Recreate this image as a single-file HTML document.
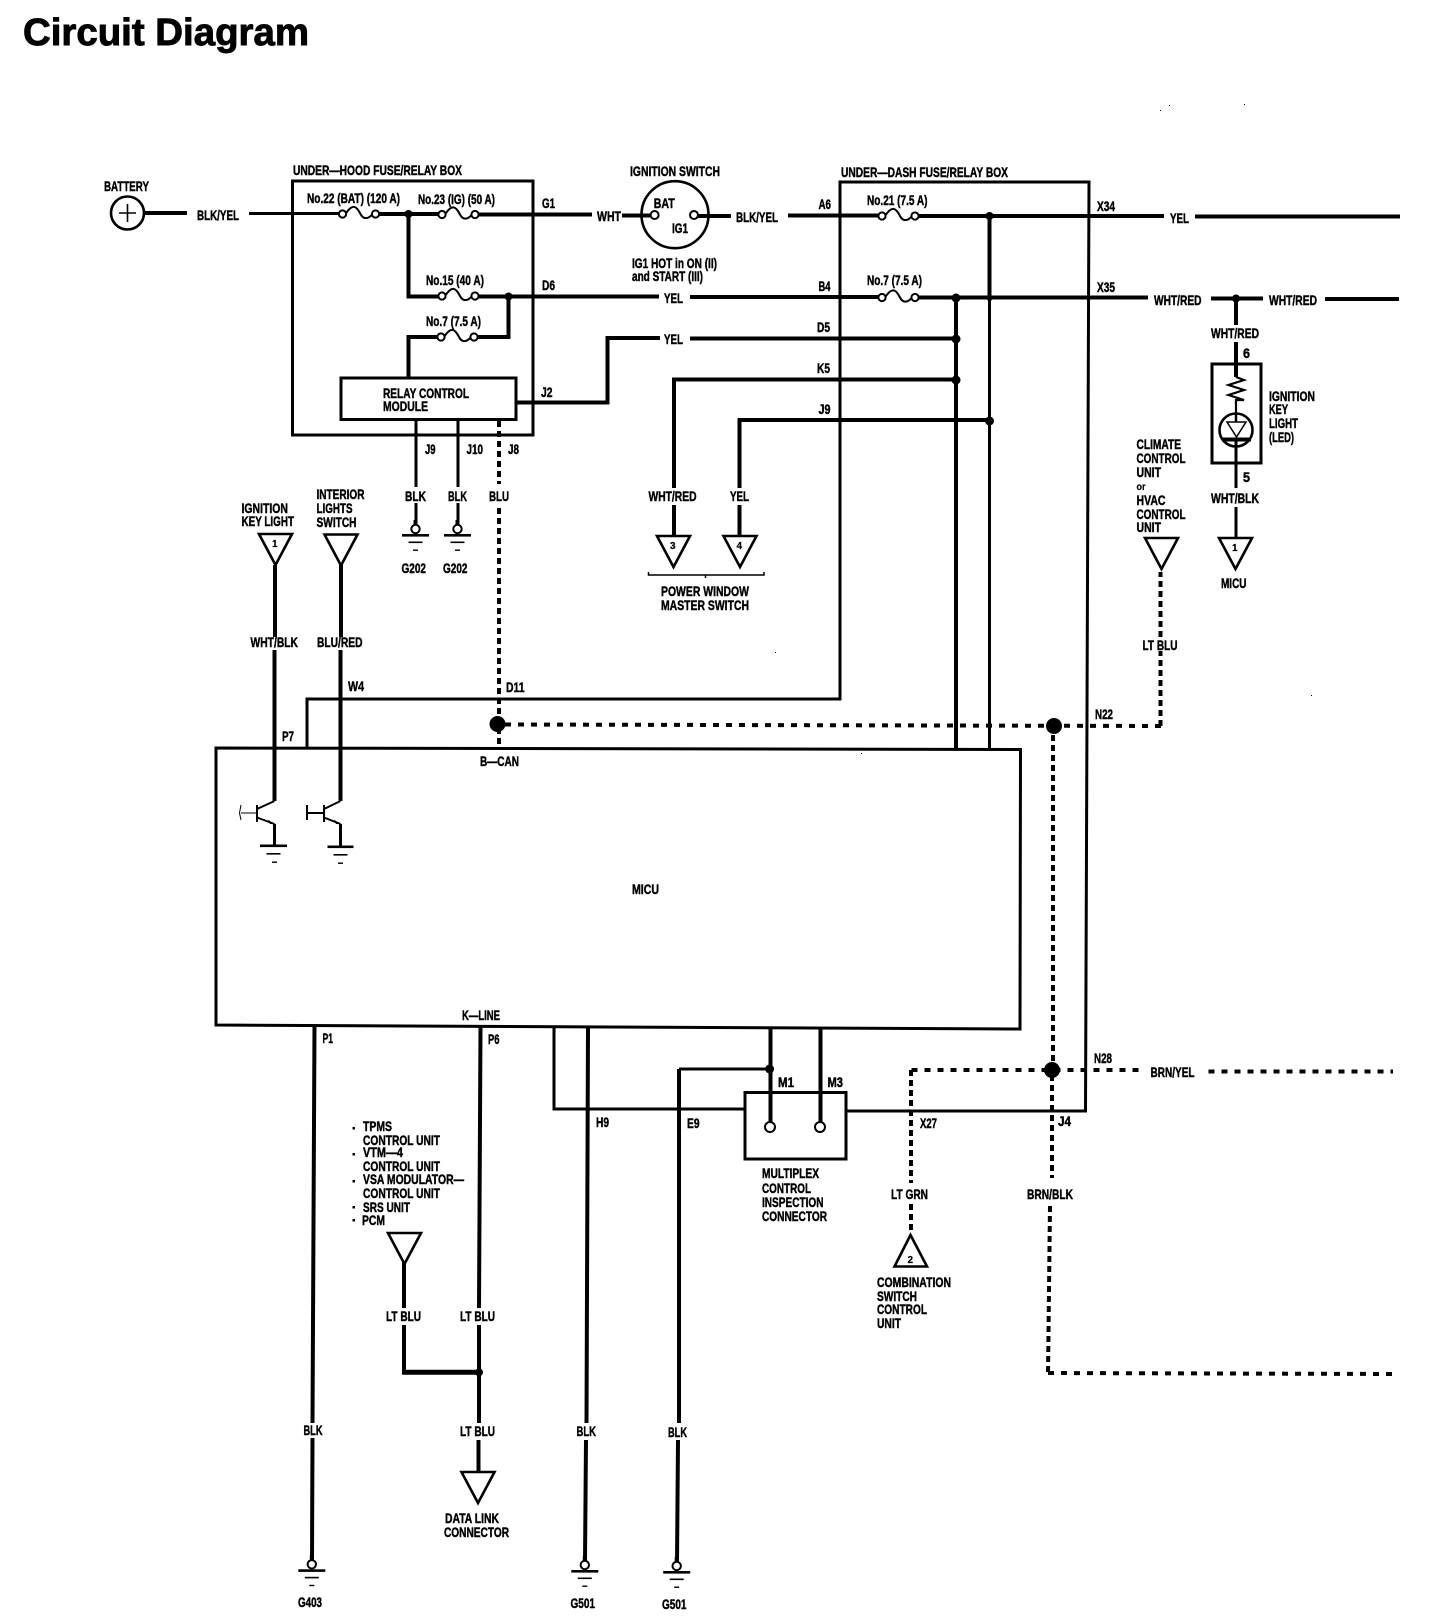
<!DOCTYPE html>
<html><head><meta charset="utf-8"><title>Circuit Diagram</title>
<style>
html,body{margin:0;padding:0;background:#fff}
svg{display:block}
text{font-family:"Liberation Sans",sans-serif;font-weight:bold;font-size:14px;fill:#000;stroke:#000;stroke-width:.45}
.t{font-size:38px;stroke-width:.9}
.s{font-size:10px;stroke-width:.2}
.w,.m,.n,.d,.dv,.x{fill:none;stroke:#000;stroke-linecap:butt;stroke-linejoin:miter}
.w{stroke-width:4}.m{stroke-width:3}.n{stroke-width:1.5}
.d{stroke-width:4;stroke-dasharray:6 7}
.dv{stroke-width:4;stroke-dasharray:6 4}
.p{fill:#fff;stroke:#000;stroke-width:2}
.tri{fill:#fff;stroke:#000;stroke-width:2.6;stroke-linejoin:miter}
.j{fill:#000}
</style></head><body>
<svg width="1456" height="1622" viewBox="0 0 1456 1622" xmlns="http://www.w3.org/2000/svg">
<defs>
<g id="fuse"><path d="M3 0C10-11 14-8 18 0C21 6 26 5 30 0" fill="none" stroke="#000" stroke-width="2"/><circle cx="0" cy="0" r="3.6" class="p"/><circle cx="33" cy="0" r="3.6" class="p"/></g>
<g id="gnd"><path d="M0-9V0" stroke="#000" stroke-width="4" fill="none"/><circle cx="0" cy="0" r="4.2" class="p"/><rect x="-13.5" y="5" width="27" height="2.6" fill="#000"/><rect x="-7" y="12.5" width="14" height="1.6" fill="#000"/><rect x="-2.5" y="20.5" width="5" height="1.4" fill="#000"/></g>
<g id="dn"><path d="M-16.5 0H16.5L0 31Z" class="tri"/></g>
</defs>
<rect width="1456" height="1622" fill="#fff"/>

<text class="t" x="23" y="45" textLength="286" lengthAdjust="spacingAndGlyphs">Circuit Diagram</text>

<!-- boxes -->
<path class="m" d="M292.500 181H533V435H292.500Z"/>
<path class="m" d="M1089 182H840V699H307V747"/>
<path class="m" d="M840 182H1089L1085.500 1111H846"/>
<path class="m" d="M745 1109H554V1027"/>
<path class="m" d="M216 748L1020.500 749.500L1020 1029L216 1025Z"/>
<rect x="341" y="378" width="175" height="41.500" class="m"/>
<rect x="745" y="1092.500" width="101" height="66.500" class="m"/>
<rect x="1212" y="364" width="49" height="99" class="m"/>

<!-- top row wires -->
<circle cx="127.500" cy="213" r="16.500" fill="#fff" stroke="#000" stroke-width="2.600"/>
<path d="M119 213H136M127.500 204V222" stroke="#000" stroke-width="1.600" fill="none"/>
<path class="w" d="M144 213H187"/>
<path class="m" d="M249 213.500H342"/>
<path class="w" d="M376 214H442M475 214.500H592"/>
<path class="w" d="M622 215.500H655M698 216H731"/>
<path class="w" d="M788 215.500H882M914 216H1164M1195 216.500H1400"/>
<path class="w" d="M408.500 214V296.500H442"/>
<path class="w" d="M475 296.500H659M690 297H882M914 297.500H1148"/>
<path class="w" d="M1211 298.500H1263M1325 299H1399"/>
<path class="w" d="M508.500 296.500V337H474M441 337H408.500V378"/>
<path class="w" d="M516 402.500H607.500V338H660M690 338.500H956"/>
<path class="w" d="M956 379.500H674V488M674 505V536"/>
<path class="w" d="M989 420H739.500V488M739.500 505V536"/>
<path class="w" d="M956 298V749"/>
<path class="m" d="M989.500 216V749"/>
<path class="w" d="M989.500 216V300"/>

<!-- fuses -->
<use href="#fuse" x="342.500" y="214"/>
<use href="#fuse" x="442" y="214.500"/>
<use href="#fuse" x="442" y="296"/>
<use href="#fuse" x="441" y="337"/>
<use href="#fuse" x="882" y="216"/>
<use href="#fuse" x="882" y="297.500"/>

<!-- ignition switch -->
<circle cx="675" cy="214.700" r="33.500" fill="none" stroke="#000" stroke-width="2.600"/>
<circle cx="654.600" cy="215" r="4" class="p"/><circle cx="694" cy="215" r="4" class="p"/>

<!-- junctions -->
<circle class="j" cx="408.500" cy="214" r="4"/><circle class="j" cx="508.500" cy="296.500" r="4"/>
<circle class="j" cx="989.500" cy="216" r="4"/><circle class="j" cx="956" cy="298" r="4.500"/>
<circle class="j" cx="989.500" cy="298" r="3"/>
<circle class="j" cx="956" cy="339" r="4.500"/><circle class="j" cx="956" cy="380" r="4.500"/><circle class="j" cx="989.500" cy="421" r="4.500"/>
<circle class="j" cx="1236" cy="298.500" r="4"/>

<!-- relay drops -->
<path class="m" d="M416 419V487M416 503V525M458 419V487M458 503V525"/>
<use href="#gnd" x="415.500" y="529"/><use href="#gnd" x="457.500" y="529"/>
<path class="dv" d="M499 421V484M499 508V747"/>

<!-- triangles -->
<use href="#dn" x="275.500" y="534"/><use href="#dn" x="341" y="534.500"/>
<use href="#dn" x="673.500" y="536"/><use href="#dn" x="740" y="536"/>
<use href="#dn" x="1161.500" y="538"/><use href="#dn" x="1235.500" y="538"/>
<use href="#dn" x="404.500" y="1233"/><use href="#dn" x="478" y="1472"/>
<path d="M910.500 1235L927 1266.500H894.500Z" class="tri"/>

<path class="n" d="M648.500 572V575H764V572M705.500 575V578"/>

<!-- ignition key light -->
<path class="w" d="M1236 298.500V325M1236 342V377"/>
<path d="M1236 377L1244 380L1228.500 385L1244 390L1228.500 395L1244 400H1236V414" fill="none" stroke="#000" stroke-width="2.200"/>
<circle cx="1236" cy="430" r="16.500" fill="#fff" stroke="#000" stroke-width="2.600"/>
<path d="M1227 422H1246L1236.500 437Z" fill="#fff" stroke="#000" stroke-width="1.500"/>
<path d="M1236 414V422" stroke="#000" stroke-width="2.500"/>
<rect x="1222" y="437.500" width="29" height="4" fill="#000"/>
<path class="m" d="M1236 441V488M1236 507V538"/>

<!-- can -->
<path class="d" d="M505 724.500L1161 726"/>
<circle class="j" cx="497.500" cy="724" r="8"/>
<circle class="j" cx="1054" cy="726" r="8"/>
<path class="dv" d="M1160.500 726V651M1160.500 637V572"/>
<path class="dv" d="M1053 735V1070"/>
<path class="d" d="M911.500 1070H1143M1208.500 1071.500H1393"/>
<circle class="j" cx="1052" cy="1070" r="8"/>
<path class="dv" d="M911 1070V1183M911 1204V1231"/>
<path class="dv" d="M1052 1075V1178M1050 1206L1048 1374"/>
<path class="d" d="M1048 1373L1392 1374"/>

<!-- left wires -->
<path class="w" d="M275 565V637M274.500 650V801"/>
<path class="w" d="M341 565V637M340.500 650V801"/>
<!-- transistors -->
<g fill="none" stroke="#000">
<path stroke-width="2" d="M257 805V822M257 809L274.500 801M257 817.500L274.500 824"/>
<path stroke-width="1" d="M241 813H257M241 805L239.500 813L241 820"/>
<path stroke-width="2" d="M324 805V822M324 809L340.500 801M324 817.500L340.500 824"/>
<path stroke-width="2" d="M306 813H324M307 805V820"/>
<path stroke-width="3" d="M274.500 824V846M340.500 824V847"/>
</g>
<path d="M274 824L268 819.500L270 824Z M340 824L334 819.500L336 824Z" fill="#000"/>
<rect x="260" y="844.500" width="27" height="2.600" fill="#000"/><rect x="266.500" y="853" width="14" height="1.600" fill="#000"/><rect x="272" y="861.500" width="5" height="1.400" fill="#000"/>
<rect x="327.500" y="845.500" width="26" height="2.600" fill="#000"/><rect x="333.500" y="854" width="14" height="1.600" fill="#000"/><rect x="338" y="862.500" width="5" height="1.400" fill="#000"/>

<!-- bottom wires -->
<path class="w" d="M314.500 1025L312.500 1423M312.500 1438L312 1560"/>
<use href="#gnd" x="311.800" y="1564.300"/>
<path class="w" d="M480.500 1027L479 1308M479 1325V1423M478.500 1440V1472"/>
<path class="w" d="M404 1262V1308M404 1325V1372"/>
<path d="M402 1372.300H479" stroke="#000" stroke-width="5" fill="none"/>
<circle class="j" cx="479" cy="1372.300" r="4"/>
<path class="w" d="M588 1027L586.500 1423M586 1440L585 1561"/>
<use href="#gnd" x="584.800" y="1565"/>
<path class="m" d="M770 1069H679"/>
<path class="w" d="M679 1069V1423M678 1440L677 1563"/>
<use href="#gnd" x="676.700" y="1566"/>
<circle class="j" cx="769.600" cy="1069" r="4.500"/>
<path class="w" d="M770.500 1027V1122M820.500 1027V1122"/>
<circle cx="770" cy="1127" r="5" class="p"/><circle cx="820" cy="1127" r="5" class="p"/>

<!-- labels -->
<text x="104" y="191" textLength="45" lengthAdjust="spacingAndGlyphs">BATTERY</text>
<text x="197" y="220" textLength="42" lengthAdjust="spacingAndGlyphs">BLK/YEL</text>
<text x="293" y="175" textLength="169" lengthAdjust="spacingAndGlyphs">UNDER—HOOD FUSE/RELAY BOX</text>
<text x="307" y="203" textLength="93" lengthAdjust="spacingAndGlyphs">No.22 (BAT) (120 A)</text>
<text x="418" y="204" textLength="77" lengthAdjust="spacingAndGlyphs">No.23 (IG) (50 A)</text>
<text x="542" y="208" textLength="13" lengthAdjust="spacingAndGlyphs">G1</text>
<text x="597" y="221" textLength="24" lengthAdjust="spacingAndGlyphs">WHT</text>
<text x="426" y="285" textLength="58" lengthAdjust="spacingAndGlyphs">No.15 (40 A)</text>
<text x="542" y="290" textLength="13" lengthAdjust="spacingAndGlyphs">D6</text>
<text x="664" y="303" textLength="19" lengthAdjust="spacingAndGlyphs">YEL</text>
<text x="426" y="326" textLength="55" lengthAdjust="spacingAndGlyphs">No.7 (7.5 A)</text>
<text x="664" y="344" textLength="19" lengthAdjust="spacingAndGlyphs">YEL</text>
<text x="383" y="398" textLength="86" lengthAdjust="spacingAndGlyphs">RELAY CONTROL</text>
<text x="383" y="411" textLength="45" lengthAdjust="spacingAndGlyphs">MODULE</text>
<text x="541" y="397" textLength="11.500" lengthAdjust="spacingAndGlyphs">J2</text>
<text x="425" y="454" textLength="10.500" lengthAdjust="spacingAndGlyphs">J9</text>
<text x="466.500" y="454" textLength="16.500" lengthAdjust="spacingAndGlyphs">J10</text>
<text x="508" y="454" textLength="11" lengthAdjust="spacingAndGlyphs">J8</text>
<text x="405" y="501" textLength="21" lengthAdjust="spacingAndGlyphs">BLK</text>
<text x="448" y="501" textLength="19" lengthAdjust="spacingAndGlyphs">BLK</text>
<text x="489" y="501" textLength="20" lengthAdjust="spacingAndGlyphs">BLU</text>
<text x="401.500" y="573" textLength="24.500" lengthAdjust="spacingAndGlyphs">G202</text>
<text x="443" y="573" textLength="24.500" lengthAdjust="spacingAndGlyphs">G202</text>
<text x="630" y="176" textLength="90" lengthAdjust="spacingAndGlyphs">IGNITION SWITCH</text>
<text x="653.700" y="208" textLength="21" lengthAdjust="spacingAndGlyphs">BAT</text>
<text x="672" y="233" textLength="16" lengthAdjust="spacingAndGlyphs">IG1</text>
<text x="632" y="268" textLength="85" lengthAdjust="spacingAndGlyphs">IG1 HOT in ON (II)</text>
<text x="632" y="281" textLength="71" lengthAdjust="spacingAndGlyphs">and START (III)</text>
<text x="736" y="222" textLength="42" lengthAdjust="spacingAndGlyphs">BLK/YEL</text>
<text x="818.500" y="209" textLength="12.500" lengthAdjust="spacingAndGlyphs">A6</text>
<text x="841" y="177" textLength="167" lengthAdjust="spacingAndGlyphs">UNDER—DASH FUSE/RELAY BOX</text>
<text x="867" y="205" textLength="60.500" lengthAdjust="spacingAndGlyphs">No.21 (7.5 A)</text>
<text x="1097" y="211" textLength="18" lengthAdjust="spacingAndGlyphs">X34</text>
<text x="1170" y="223" textLength="19" lengthAdjust="spacingAndGlyphs">YEL</text>
<text x="818.500" y="291" textLength="12" lengthAdjust="spacingAndGlyphs">B4</text>
<text x="867" y="285" textLength="55" lengthAdjust="spacingAndGlyphs">No.7 (7.5 A)</text>
<text x="1097" y="292" textLength="18" lengthAdjust="spacingAndGlyphs">X35</text>
<text x="1154" y="305" textLength="47.500" lengthAdjust="spacingAndGlyphs">WHT/RED</text>
<text x="1269" y="305" textLength="48" lengthAdjust="spacingAndGlyphs">WHT/RED</text>
<text x="817" y="332" textLength="13" lengthAdjust="spacingAndGlyphs">D5</text>
<text x="817" y="373" textLength="13" lengthAdjust="spacingAndGlyphs">K5</text>
<text x="818.500" y="414" textLength="12" lengthAdjust="spacingAndGlyphs">J9</text>
<text x="1211" y="338" textLength="48" lengthAdjust="spacingAndGlyphs">WHT/RED</text>
<text x="1243" y="358" textLength="7" lengthAdjust="spacingAndGlyphs">6</text>
<text x="1243" y="482" textLength="7" lengthAdjust="spacingAndGlyphs">5</text>
<text x="1211" y="503" textLength="48" lengthAdjust="spacingAndGlyphs">WHT/BLK</text>
<text x="1269" y="401" textLength="46" lengthAdjust="spacingAndGlyphs">IGNITION</text>
<text x="1269" y="414" textLength="19" lengthAdjust="spacingAndGlyphs">KEY</text>
<text x="1269" y="428" textLength="29" lengthAdjust="spacingAndGlyphs">LIGHT</text>
<text x="1269" y="442" textLength="25" lengthAdjust="spacingAndGlyphs">(LED)</text>
<text x="1221" y="588" textLength="25.500" lengthAdjust="spacingAndGlyphs">MICU</text>
<text x="1136.500" y="449" textLength="44.500" lengthAdjust="spacingAndGlyphs">CLIMATE</text>
<text x="1136.500" y="463" textLength="49" lengthAdjust="spacingAndGlyphs">CONTROL</text>
<text x="1136.500" y="477" textLength="24.500" lengthAdjust="spacingAndGlyphs">UNIT</text>
<text class="s" x="1136.500" y="490" textLength="9" lengthAdjust="spacingAndGlyphs">or</text>
<text x="1136.500" y="505" textLength="29" lengthAdjust="spacingAndGlyphs">HVAC</text>
<text x="1136.500" y="519" textLength="49" lengthAdjust="spacingAndGlyphs">CONTROL</text>
<text x="1136.500" y="532" textLength="24.500" lengthAdjust="spacingAndGlyphs">UNIT</text>
<text x="1142.500" y="650" textLength="35" lengthAdjust="spacingAndGlyphs">LT BLU</text>
<text x="241.500" y="513" textLength="46.500" lengthAdjust="spacingAndGlyphs">IGNITION</text>
<text x="241.500" y="526" textLength="52.500" lengthAdjust="spacingAndGlyphs">KEY LIGHT</text>
<text x="316.500" y="499" textLength="48" lengthAdjust="spacingAndGlyphs">INTERIOR</text>
<text x="316.500" y="513" textLength="36" lengthAdjust="spacingAndGlyphs">LIGHTS</text>
<text x="316.500" y="527" textLength="40" lengthAdjust="spacingAndGlyphs">SWITCH</text>
<text x="648.500" y="501" textLength="48" lengthAdjust="spacingAndGlyphs">WHT/RED</text>
<text x="730" y="501" textLength="19" lengthAdjust="spacingAndGlyphs">YEL</text>
<text x="661" y="596" textLength="88" lengthAdjust="spacingAndGlyphs">POWER WINDOW</text>
<text x="661" y="610" textLength="88" lengthAdjust="spacingAndGlyphs">MASTER SWITCH</text>
<text class="s" x="272" y="547">1</text><text class="s" x="670" y="549">3</text><text class="s" x="736.500" y="549">4</text><text class="s" x="1232" y="551">1</text><text class="s" x="907.500" y="1263">2</text>
<text x="250.500" y="647" textLength="47.500" lengthAdjust="spacingAndGlyphs">WHT/BLK</text>
<text x="317" y="647" textLength="45.500" lengthAdjust="spacingAndGlyphs">BLU/RED</text>
<text x="348" y="691" textLength="16" lengthAdjust="spacingAndGlyphs">W4</text>
<text x="506" y="692" textLength="18.500" lengthAdjust="spacingAndGlyphs">D11</text>
<text x="282" y="741" textLength="12" lengthAdjust="spacingAndGlyphs">P7</text>
<text x="480" y="766" textLength="39" lengthAdjust="spacingAndGlyphs">B—CAN</text>
<text x="1095" y="719" textLength="18" lengthAdjust="spacingAndGlyphs">N22</text>
<text x="632" y="894" textLength="27" lengthAdjust="spacingAndGlyphs">MICU</text>
<text x="462" y="1020" textLength="38" lengthAdjust="spacingAndGlyphs">K—LINE</text>
<text x="322.500" y="1043" textLength="10.500" lengthAdjust="spacingAndGlyphs">P1</text>
<text x="488" y="1044" textLength="11.500" lengthAdjust="spacingAndGlyphs">P6</text>
<text x="778" y="1087" textLength="16" lengthAdjust="spacingAndGlyphs">M1</text>
<text x="827.500" y="1087" textLength="15.500" lengthAdjust="spacingAndGlyphs">M3</text>
<text x="1094" y="1063" textLength="18" lengthAdjust="spacingAndGlyphs">N28</text>
<text x="1150.500" y="1077" textLength="44" lengthAdjust="spacingAndGlyphs">BRN/YEL</text>
<text x="596" y="1127" textLength="13" lengthAdjust="spacingAndGlyphs">H9</text>
<text x="687" y="1128" textLength="12.500" lengthAdjust="spacingAndGlyphs">E9</text>
<text x="920" y="1128" textLength="17" lengthAdjust="spacingAndGlyphs">X27</text>
<text x="1058" y="1126" textLength="13" lengthAdjust="spacingAndGlyphs">J4</text>
<text x="762" y="1178" textLength="57" lengthAdjust="spacingAndGlyphs">MULTIPLEX</text>
<text x="762" y="1193" textLength="49" lengthAdjust="spacingAndGlyphs">CONTROL</text>
<text x="762" y="1207" textLength="61.500" lengthAdjust="spacingAndGlyphs">INSPECTION</text>
<text x="762" y="1221" textLength="65" lengthAdjust="spacingAndGlyphs">CONNECTOR</text>
<text x="891" y="1199" textLength="37" lengthAdjust="spacingAndGlyphs">LT GRN</text>
<text x="1027" y="1199" textLength="46" lengthAdjust="spacingAndGlyphs">BRN/BLK</text>
<text x="877" y="1287" textLength="74" lengthAdjust="spacingAndGlyphs">COMBINATION</text>
<text x="877" y="1301" textLength="40" lengthAdjust="spacingAndGlyphs">SWITCH</text>
<text x="877" y="1314" textLength="50" lengthAdjust="spacingAndGlyphs">CONTROL</text>
<text x="877" y="1328" textLength="24" lengthAdjust="spacingAndGlyphs">UNIT</text>
<text x="363" y="1131" textLength="29" lengthAdjust="spacingAndGlyphs">TPMS</text>
<text x="363" y="1145" textLength="77" lengthAdjust="spacingAndGlyphs">CONTROL UNIT</text>
<text x="363" y="1157" textLength="40" lengthAdjust="spacingAndGlyphs">VTM—4</text>
<text x="363" y="1171" textLength="77" lengthAdjust="spacingAndGlyphs">CONTROL UNIT</text>
<text x="363" y="1184" textLength="101" lengthAdjust="spacingAndGlyphs">VSA MODULATOR—</text>
<text x="363" y="1198" textLength="77" lengthAdjust="spacingAndGlyphs">CONTROL UNIT</text>
<text x="363" y="1212" textLength="47" lengthAdjust="spacingAndGlyphs">SRS UNIT</text>
<text x="362" y="1225" textLength="23" lengthAdjust="spacingAndGlyphs">PCM</text>
<rect x="352.500" y="1127" width="2.500" height="2.500"/><rect x="352.500" y="1153" width="2.500" height="2.500"/><rect x="352.500" y="1180" width="2.500" height="2.500"/><rect x="352.500" y="1206" width="2.500" height="2.500"/><rect x="352.500" y="1219" width="2.500" height="2.500"/>
<text x="386" y="1321" textLength="35" lengthAdjust="spacingAndGlyphs">LT BLU</text>
<text x="460" y="1321" textLength="35" lengthAdjust="spacingAndGlyphs">LT BLU</text>
<text x="460" y="1436" textLength="35" lengthAdjust="spacingAndGlyphs">LT BLU</text>
<text x="303.500" y="1435" textLength="19" lengthAdjust="spacingAndGlyphs">BLK</text>
<text x="576.500" y="1436" textLength="19.500" lengthAdjust="spacingAndGlyphs">BLK</text>
<text x="668" y="1437" textLength="19" lengthAdjust="spacingAndGlyphs">BLK</text>
<text x="445" y="1523" textLength="54" lengthAdjust="spacingAndGlyphs">DATA LINK</text>
<text x="444" y="1537" textLength="65" lengthAdjust="spacingAndGlyphs">CONNECTOR</text>
<text x="298" y="1607" textLength="24" lengthAdjust="spacingAndGlyphs">G403</text>
<text x="570.500" y="1608" textLength="24.500" lengthAdjust="spacingAndGlyphs">G501</text>
<text x="662" y="1609" textLength="24.500" lengthAdjust="spacingAndGlyphs">G501</text>
<rect x="1160" y="110" width="1" height="1"/><rect x="1169" y="105" width="1" height="1"/><rect x="1244" y="104" width="1" height="1"/><rect x="775" y="652" width="1" height="1"/><rect x="861" y="753" width="1" height="1"/><rect x="1311" y="695" width="1" height="1"/>
</svg>
</body></html>
